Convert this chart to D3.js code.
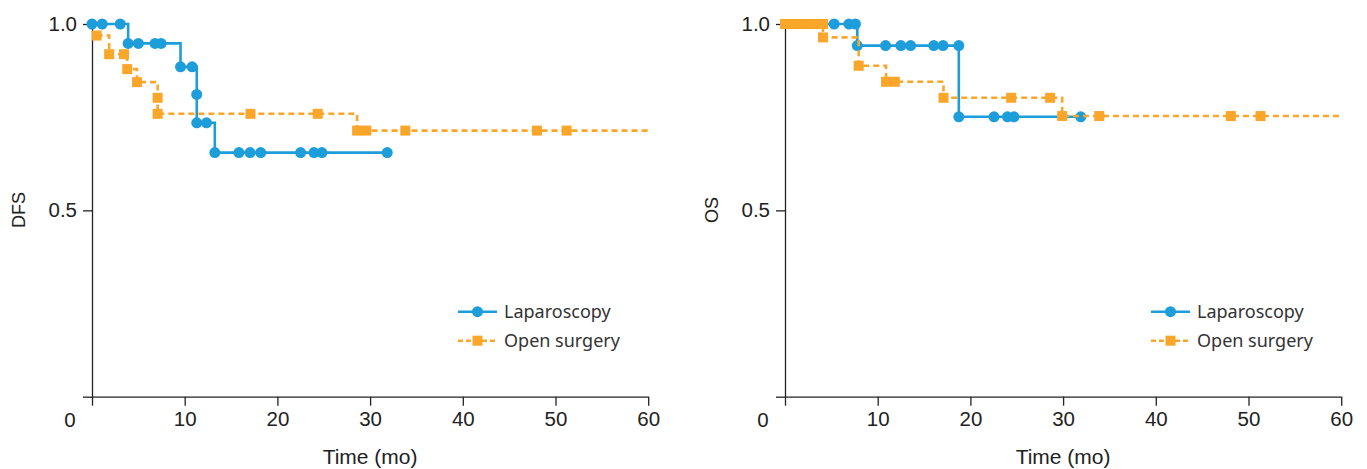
<!DOCTYPE html>
<html>
<head>
<meta charset="utf-8">
<script src="https://cdn.jsdelivr.net/npm/d3@7"></script>
<style>
  body { margin: 0; background: #fff; }
  svg text { font-family: "Liberation Sans", Arial, sans-serif; fill: #222; }
  .legend text { font-family: "Noto Sans", "Open Sans", sans-serif; fill: #333; }
</style>
</head>
<body>
<svg id="chart" width="1367" height="469"></svg>
<script>
// x ticks (months) and y ticks
const xTicks = [0, 10, 20, 30, 40, 50, 60];
const yTicks = [0, 0.5, 1.0];
const groups = ["Laparoscopy", "Open surgery"];

// DFS - laparoscopy
const dfsLapTime = [0, 1.1, 3.05, 3.9, 5.0, 6.8, 7.45, 9.55, 10.8, 11.3, 11.3, 12.35, 13.25, 15.85, 17.05, 18.2, 22.5, 23.95, 24.8, 31.85];
const dfsLapSurv = [1, 1, 1, 0.948, 0.948, 0.948, 0.948, 0.885, 0.885, 0.811, 0.735, 0.735, 0.655, 0.655, 0.655, 0.655, 0.655, 0.655, 0.655, 0.655];
// DFS - open surgery
const dfsOpenTime = [0.5, 1.85, 3.45, 3.8, 4.85, 7.08, 7.08, 17.1, 24.35, 28.6, 29.6, 33.8, 48.0, 51.2];
const dfsOpenSurv = [0.969, 0.919, 0.919, 0.879, 0.844, 0.802, 0.759, 0.759, 0.759, 0.714, 0.714, 0.714, 0.714, 0.714];

// OS - laparoscopy
const osLapTime = [5.3, 6.9, 7.6, 7.8, 10.85, 12.5, 13.55, 16.05, 17.05, 18.75, 18.75, 22.55, 24.0, 24.7, 31.9];
const osLapSurv = [1, 1, 1, 0.942, 0.942, 0.942, 0.942, 0.942, 0.942, 0.942, 0.751, 0.751, 0.751, 0.751, 0.751];
// OS - open surgery
const osOpenTime = [0, 0.6, 1.3, 2.0, 2.6, 3.2, 3.8, 4.1, 4.1, 7.95, 10.9, 11.85, 17.1, 24.4, 28.6, 29.9, 33.9, 48.1, 51.3];
const osOpenSurv = [1, 1, 1, 1, 1, 1, 1, 1, 0.964, 0.888, 0.845, 0.845, 0.802, 0.802, 0.802, 0.753, 0.753, 0.753, 0.753];

const blue = "#1d9dd9";
const orange = "#f9a62b";

const svg = d3.select("#chart");

const panels = [
  { left: 92, ylabel: "DFS", lap: [dfsLapTime, dfsLapSurv], open: [dfsOpenTime, dfsOpenSurv], lapStart: false },
  { left: 785, ylabel: "OS", lap: [osLapTime, osLapSurv], open: [osOpenTime, osOpenSurv], lapStart: true }
];

const plotTop = 24, plotBottom = 396.7, plotW = 556.2;

panels.forEach(p => {
  const x = d3.scaleLinear().domain([0, 60]).range([p.left, p.left + plotW]);
  const y = d3.scaleLinear().domain([0, 1]).range([plotBottom, plotTop]);
  const g = svg.append("g");

  // axes
  const xAxis = d3.axisBottom(x).tickValues(xTicks).tickSize(9).tickSizeOuter(0).tickPadding(6)
    .tickFormat(d => d === 0 ? "" : d);
  g.append("g").attr("transform", `translate(0,${plotBottom})`).call(xAxis);
  const yAxis = d3.axisLeft(y).tickValues(yTicks).tickSize(9).tickSizeOuter(0).tickPadding(6)
    .tickFormat(d => d === 0 ? "" : d3.format(".1f")(d));
  g.append("g").attr("transform", `translate(${p.left},0)`).call(yAxis);
  g.selectAll(".domain, .tick line").attr("stroke", "#222").attr("stroke-width", 1.3);
  g.selectAll(".tick text").attr("font-size", 20.5).attr("fill", "#222")
    .style("font-family", "'Liberation Sans', Arial, sans-serif");

  // origin label
  g.append("text").attr("x", p.left - 22).attr("y", 427).attr("text-anchor", "middle")
    .attr("font-size", 20.5).text("0");

  g.append("text").attr("x", p.left + plotW / 2).attr("y", 464).attr("text-anchor", "middle")
    .attr("font-size", 21).text("Time (mo)");
  g.append("text").attr("transform", `translate(${p.left - 67},210) rotate(-90)`)
    .attr("text-anchor", "middle").attr("font-size", 18).text(p.ylabel);

  const line = d3.line().x(d => x(d[0])).y(d => y(d[1])).curve(d3.curveStepAfter);

  // laparoscopy
  const lapPts = p.lap[0].map((t, i) => [t, p.lap[1][i]]);
  const lapLine = p.lapStart ? [[0, 1]].concat(lapPts) : lapPts;
  g.append("path").attr("d", line(lapLine)).attr("fill", "none")
    .attr("stroke", blue).attr("stroke-width", 2.6);
  g.selectAll(".lap").data(lapPts).join("circle").attr("class", "lap")
    .attr("cx", d => x(d[0])).attr("cy", d => y(d[1])).attr("r", 5.5).attr("fill", blue);

  // open surgery
  const openPts = p.open[0].map((t, i) => [t, p.open[1][i]]);
  const openLine = openPts.concat([[60, openPts[openPts.length - 1][1]]]);
  g.append("path").attr("d", line(openLine)).attr("fill", "none")
    .attr("stroke", orange).attr("stroke-width", 2.6).attr("stroke-dasharray", "6,4");
  g.selectAll(".open").data(openPts).join("rect").attr("class", "open")
    .attr("x", d => x(d[0]) - 5).attr("y", d => y(d[1]) - 5)
    .attr("width", 10).attr("height", 10).attr("fill", orange);

  // legend
  const lg = g.append("g").attr("class", "legend").attr("transform", `translate(${p.left + 366},0)`);
  groups.forEach((name, i) => {
    const ly = 311.7 + i * 29;
    const col = i === 0 ? blue : orange;
    lg.append("line").attr("x1", 0).attr("x2", 39).attr("y1", ly).attr("y2", ly)
      .attr("stroke", col).attr("stroke-width", 2.6)
      .attr("stroke-dasharray", i === 0 ? null : "5,3");
    if (i === 0) {
      lg.append("circle").attr("cx", 19.5).attr("cy", ly).attr("r", 5.5).attr("fill", col);
    } else {
      lg.append("rect").attr("x", 14.5).attr("y", ly - 5).attr("width", 10).attr("height", 10).attr("fill", col);
    }
    lg.append("text").attr("x", 46).attr("y", ly).attr("dy", "0.35em")
      .attr("font-size", 18).text(name);
  });
});
</script>
</body>
</html>
